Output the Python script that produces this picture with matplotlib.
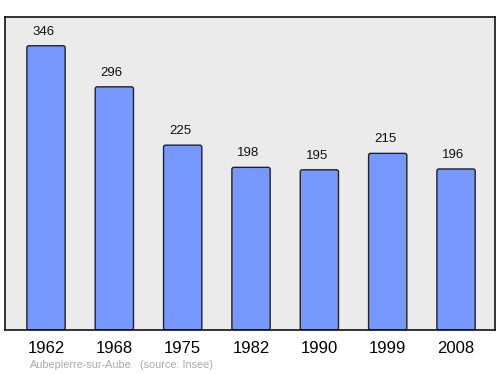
"""Population bar chart for Aubepierre-sur-Aube."""

import matplotlib.pyplot as plt
from matplotlib.patches import FancyBboxPatch

years = ["1962", "1968", "1975", "1982", "1990", "1999", "2008"]
population = [346, 296, 225, 198, 195, 215, 196]

BAR_COLOR = "#7799ff"
BG_COLOR = "#ebebeb"

plt.rcParams["font.family"] = ["Liberation Sans", "DejaVu Sans"]

fig = plt.figure(figsize=(5.0, 3.74), dpi=100)
ax = fig.add_axes([0.01, 1 - 330 / 374, 0.98, 313 / 374])
ax.set_facecolor(BG_COLOR)

xlo, xhi = -0.60, 6.57
ax.set_xlim(xlo, xhi)
ax.set_ylim(0, 381)

width = 0.56
for i, (yr, val) in enumerate(zip(years, population)):
    ax.add_patch(
        FancyBboxPatch(
            (i - width / 2, 0), width, val,
            boxstyle="round,pad=0,rounding_size=0.03",
            mutation_aspect=381 / (xhi - xlo) * 490 / 313,
            facecolor=BAR_COLOR, edgecolor="#222222", linewidth=1.0,
        )
    )
    ax.text(i - 0.04, val + 10, str(val), ha="center", va="bottom",
            fontsize=9.5, color="#111111")

ax.set_xticks(range(len(years)))
ax.set_xticklabels(years, fontsize=12)
ax.tick_params(axis="x", length=0, pad=8)
ax.set_yticks([])

for s in ax.spines.values():
    s.set_linewidth(1.2)
    s.set_color("#111111")

fig.text(30 / 500, 1 - 365 / 374, "Aubepierre-sur-Aube", fontsize=7.8,
         color="#aaaaaa", va="center")
fig.text(140 / 500, 1 - 365 / 374, "(source: Insee)", fontsize=7.8,
         color="#aaaaaa", va="center")

fig.savefig("out.png", dpi=100)
